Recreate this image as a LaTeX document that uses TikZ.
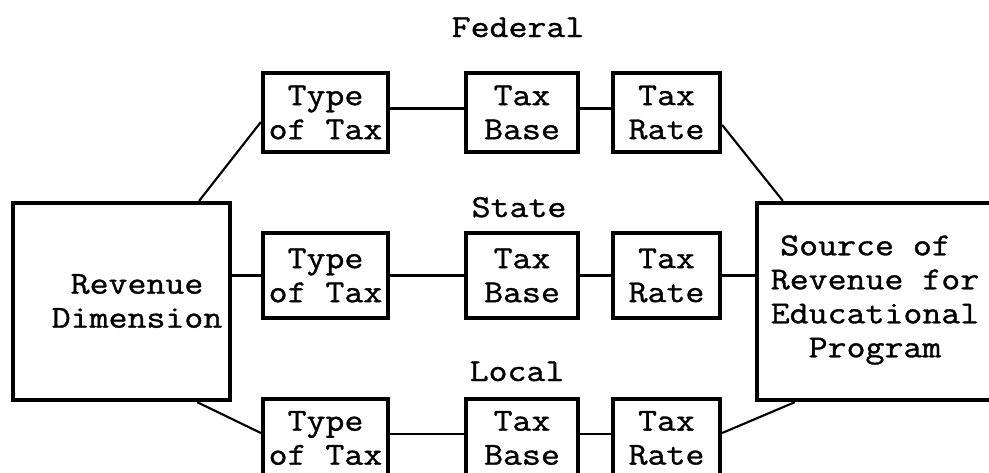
\documentclass[tikz,border=0pt]{standalone}
\usepackage{fontspec}
\usetikzlibrary{calc}
\newfontfamily\tw[FakeStretch=1.15, RawFeature={embolden=1.1}]{Latin Modern Mono}
\begin{document}
\begin{tikzpicture}[x=0.75pt,y=-0.75pt,
  txt/.style={font=\tw\fontsize{24}{25.5}\selectfont, align=center, inner sep=0pt},
  box/.style={draw, line width=3.2pt, inner sep=0pt, txt, minimum width=#1*0.75pt},
  rowA/.style={minimum height=79*0.75pt},
  rowB/.style={minimum height=85*0.75pt},
  rowC/.style={minimum height=78*0.75pt},
  conn/.style={line width=1.6pt},
  lbl/.style={txt, anchor=base}]
\useasboundingbox (0,0) rectangle (989,472);
\fill[white] (0,0) rectangle (989,472);
% big boxes
\node[box=217, minimum height=197*0.75pt] (rev) at (121.5,301.5) {};
\node[txt] (revt) at (137,301) {Revenue\\Dimension};
\node[box=240, minimum height=197*0.75pt] (src) at (877,301.5) {};
\node[txt] (srct) at (875,300) {Source of\hphantom{x}\\Revenue for\\Educational\\Program};
% labels
\node[lbl] (fed) at (518,37) {Federal};
\node[lbl] (sta) at (519,217) {State};
\node[lbl] (loc) at (517,381) {Local};
% rows
\node[box=125, rowA] (ty1) at (325.5,112.5) {Type\\of Tax};
\node[box=112, rowA] (ba1) at (522,112.5) {Tax\\Base};
\node[box=107, rowA] (ra1) at (666.5,112.5) {Tax\\Rate};
\node[box=125, rowB] (ty2) at (325.5,275.5) {Type\\of Tax};
\node[box=112, rowB] (ba2) at (522,275.5) {Tax\\Base};
\node[box=107, rowB] (ra2) at (666.5,275.5) {Tax\\Rate};
\node[box=125, rowC] (ty3) at (325.5,438) {Type\\of Tax};
\node[box=112, rowC] (ba3) at (522,438) {Tax\\Base};
\node[box=107, rowC] (ra3) at (666.5,438) {Tax\\Rate};
% connectors
\draw[conn] ($(rev.north east)+(-33,0)$) -- ($(ty1.west)+(0,9.5)$);
\draw[conn] ($(rev.south east)+(-35,0)$) -- ($(ty3.west)+(0,-5)$);
\draw[conn] ($(ra1.east)+(0,12.5)$) -- ($(src.north west)+(28,0)$);
\draw[conn] ($(src.south west)+(40,0)$) -- ($(ra3.east)+(0,-5)$);
\draw[conn] ($(ty1.east)+(0,-4)$) -- ($(ba1.west)+(0,-4)$);
\draw[conn] ($(ba1.east)+(0,-4)$) -- ($(ra1.west)+(0,-4)$);
\draw[conn] (ty2.west -| rev.east) -- (ty2.west);
\draw[conn] (ty2.east) -- (ba2.west);
\draw[conn] (ba2.east) -- (ra2.west);
\draw[conn] (ra2.east) -- (ra2.east -| src.west);
\draw[conn] ($(ty3.east)+(0,-4)$) -- ($(ba3.west)+(0,-4)$);
\draw[conn] ($(ba3.east)+(0,-4)$) -- ($(ra3.west)+(0,-4)$);
\end{tikzpicture}
\end{document}
